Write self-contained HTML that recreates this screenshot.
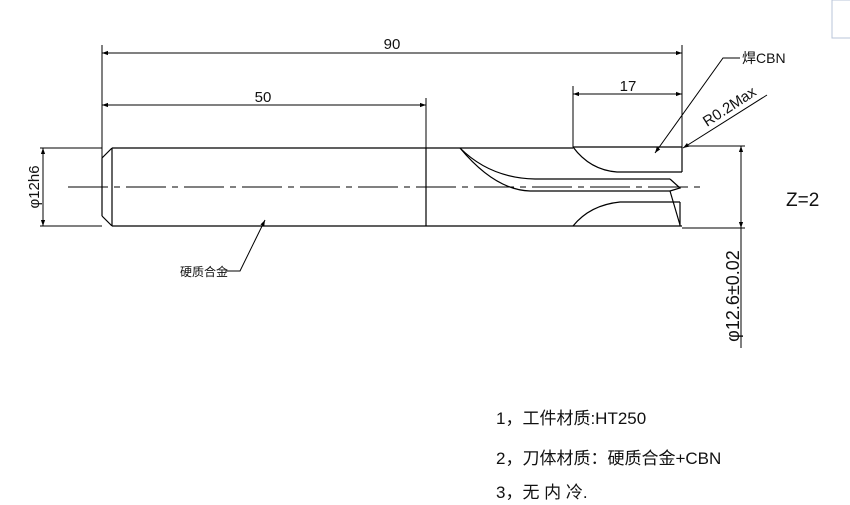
<!DOCTYPE html>
<html><head><meta charset="utf-8"><style>
html,body{margin:0;padding:0;background:#fff;}
svg{display:block}
text{font-family:"Liberation Sans","Noto Sans CJK SC",sans-serif;fill:#111}
</style></head><body>
<svg width="850" height="505" viewBox="0 0 850 505" xmlns="http://www.w3.org/2000/svg">
<defs>
<marker id="a" viewBox="0 0 10 10" refX="10" refY="5" markerWidth="12" markerHeight="6" orient="auto-start-reverse" markerUnits="userSpaceOnUse"><path d="M0,1.5 L10,5 L0,8.5z" fill="#000"/></marker>
</defs>
<rect x="832" y="0" width="20" height="38" fill="#fff" stroke="#b8c4d8"/>
<g stroke="#000" stroke-width="1.2" fill="none">
<line x1="112" y1="148" x2="573" y2="148"/>
<line x1="573" y1="147" x2="682" y2="147"/>
<line x1="112" y1="226" x2="682" y2="226"/>
<line x1="102" y1="158" x2="102" y2="216"/>
<line x1="102" y1="158" x2="112" y2="148"/>
<line x1="102" y1="216" x2="112" y2="226"/>
<line x1="112" y1="148" x2="112" y2="226"/>
<line x1="426" y1="148" x2="426" y2="226"/>
<path d="M573,147 Q590,170 617,172 L682,172"/>
<line x1="682" y1="147" x2="682" y2="172"/>
<path d="M460,148 Q490,178 535,179 L670,179"/>
<path d="M460,148 Q495,190 530,191 L670,191"/>
<path d="M670,179 L680,188 L670,191"/>
<line x1="670" y1="191" x2="680" y2="225"/>
<path d="M573,226 Q590,205 620,202 L680,202"/>
<line x1="680" y1="202" x2="680" y2="226"/>
<line x1="68" y1="187" x2="705" y2="187" stroke-width="1" stroke-dasharray="40,6,6,6"/>
<line x1="102" y1="45" x2="102" y2="158" stroke-width="1"/>
<line x1="682" y1="45" x2="682" y2="147" stroke-width="1"/>
<line x1="426" y1="98" x2="426" y2="148" stroke-width="1"/>
<line x1="573" y1="86" x2="573" y2="147" stroke-width="1"/>
<line x1="40" y1="148" x2="102" y2="148" stroke-width="1"/>
<line x1="40" y1="226" x2="102" y2="226" stroke-width="1"/>
<line x1="685" y1="146" x2="745" y2="146" stroke-width="1"/>
<line x1="682" y1="228" x2="745" y2="228" stroke-width="1"/>
<line x1="102" y1="53" x2="682" y2="53" stroke-width="1" marker-start="url(#a)" marker-end="url(#a)"/>
<line x1="102" y1="105" x2="426" y2="105" stroke-width="1" marker-start="url(#a)" marker-end="url(#a)"/>
<line x1="573" y1="94" x2="682" y2="94" stroke-width="1" marker-start="url(#a)" marker-end="url(#a)"/>
<line x1="43" y1="148" x2="43" y2="226" stroke-width="1" marker-start="url(#a)" marker-end="url(#a)"/>
<line x1="741" y1="146" x2="741" y2="228" stroke-width="1" marker-start="url(#a)" marker-end="url(#a)"/>
<line x1="741" y1="228" x2="741" y2="348" stroke-width="1"/>
<polyline points="740,58 723,58 655,153" stroke-width="1" marker-end="url(#a)"/>
<polyline points="767,95 683,148" stroke-width="1" marker-end="url(#a)"/>
<polyline points="225,271 240,271 265,220" stroke-width="1" marker-end="url(#a)"/>
</g>
<g font-size="15">
<text x="392" y="49" text-anchor="middle">90</text>
<text x="263" y="102" text-anchor="middle">50</text>
<text x="628" y="91" text-anchor="middle">17</text>
<text x="742" y="63" font-size="14">焊CBN</text>
<text transform="translate(707,127) rotate(-33)" font-size="15">R0.2Max</text>
<text transform="translate(39,187) rotate(-90)" text-anchor="middle" font-size="15">φ12h6</text>
<text transform="translate(739,296) rotate(-90)" text-anchor="middle" font-size="18">φ12.6±0.02</text>
<text x="786" y="206" font-size="19">Z=2</text>
<text x="180" y="276" font-size="12">硬质合金</text>
</g>
<g font-size="17">
<text x="496" y="424">1，工件材质:HT250</text>
<text x="496" y="464">2，刀体材质：硬质合金+CBN</text>
<text x="496" y="498">3，无 内 冷.</text>
</g>
</svg>
</body></html>
